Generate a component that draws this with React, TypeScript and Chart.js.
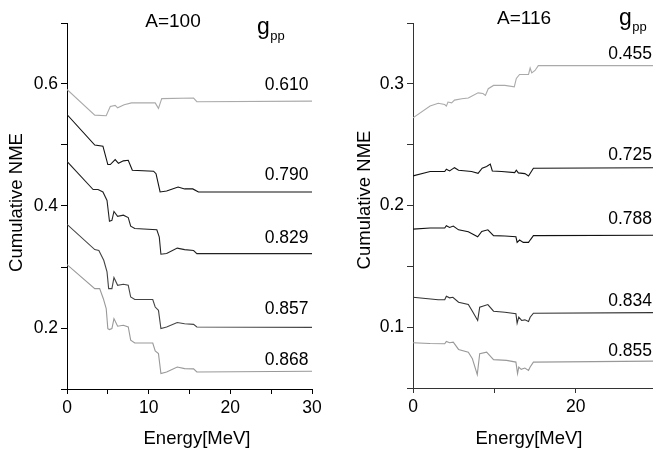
import React, { useEffect, useRef } from 'react';
import { Chart, registerables } from 'chart.js';
Chart.register(...registerables);

const FONT = '"Liberation Sans", Arial, Helvetica, sans-serif';

// ---------- A = 100 panel data ----------
const energyLeft610 = [0, 3.4, 4.8, 5.3, 5.9, 6.2, 7.0, 7.9, 10.8, 11.2, 11.6, 15.5, 15.9, 30];
const nmeLeft610 = [0.591, 0.549, 0.548, 0.563, 0.565, 0.561, 0.566, 0.569, 0.569, 0.560, 0.576, 0.577, 0.571, 0.572];

const energyLeft790 = [0, 3.4, 4.4, 5.0, 5.3, 5.9, 6.3, 6.9, 7.5, 8.0, 10.6, 10.9, 11.4, 12.2, 13.6, 14.4, 15.4, 16.1, 30];
const nmeLeft790 = [0.550, 0.500, 0.498, 0.468, 0.468, 0.476, 0.470, 0.474, 0.475, 0.4585, 0.457, 0.453, 0.423, 0.4245, 0.431, 0.428, 0.428, 0.423, 0.423];

const energyLeft829 = [0, 3.2, 3.8, 4.4, 4.9, 5.2, 5.5, 5.75, 6.2, 6.9, 7.5, 7.8, 8.3, 11.0, 11.3, 11.5, 12.2, 13.5, 14.4, 15.5, 15.9, 30];
const nmeLeft829 = [0.473, 0.427, 0.427, 0.423, 0.409, 0.375, 0.3765, 0.391, 0.383, 0.385, 0.381, 0.367, 0.363, 0.361, 0.349, 0.321, 0.322, 0.331, 0.3285, 0.327, 0.322, 0.322];

const energyLeft857 = [0, 3.4, 3.9, 4.5, 4.9, 5.1, 5.5, 5.75, 6.2, 6.9, 7.5, 7.8, 8.3, 10.5, 10.8, 11.2, 11.5, 12.2, 13.5, 14.4, 15.5, 15.9, 30];
const nmeLeft857 = [0.370, 0.3285, 0.327, 0.311, 0.292, 0.2645, 0.2645, 0.2826, 0.270, 0.2716, 0.270, 0.2508, 0.2466, 0.2466, 0.2344, 0.229, 0.199, 0.2016, 0.209, 0.207, 0.206, 0.2016, 0.201];

const energyLeft868 = [0, 3.4, 4.0, 4.45, 4.8, 5.0, 5.2, 5.5, 5.75, 6.2, 6.9, 7.5, 7.8, 8.3, 10.5, 10.8, 11.2, 11.5, 12.2, 13.5, 14.4, 15.5, 15.9, 30];
const nmeLeft868 = [0.304, 0.2646, 0.2646, 0.248, 0.232, 0.199, 0.1974, 0.199, 0.2154, 0.203, 0.2044, 0.2016, 0.180, 0.1754, 0.1754, 0.1623, 0.158, 0.1252, 0.1279, 0.136, 0.1334, 0.133, 0.1279, 0.129];

// ---------- A = 116 panel data ----------
const energyRight455 = [0, 2.1, 3.1, 3.9, 4.1, 4.3, 4.75, 5.1, 6.0, 6.8, 8.0, 8.6, 8.9, 9.25, 9.9, 11.3, 12.45, 12.7, 13.1, 14.2, 14.4, 14.6, 15.0, 15.4, 30];
const nmeRight455 = [0.272, 0.2817, 0.284, 0.283, 0.2817, 0.285, 0.2844, 0.2866, 0.2877, 0.2883, 0.2926, 0.292, 0.2905, 0.296, 0.2987, 0.2987, 0.2975, 0.3044, 0.3077, 0.3077, 0.313, 0.309, 0.311, 0.315, 0.315];

const energyRight725 = [0, 2.1, 3.9, 4.1, 4.5, 5.1, 5.6, 7.2, 8.0, 8.5, 9.05, 9.5, 9.75, 10.9, 12.5, 12.7, 12.95, 13.75, 14.2, 14.8, 30];
const nmeRight725 = [0.2243, 0.2279, 0.2279, 0.2298, 0.2284, 0.2311, 0.229, 0.2279, 0.2265, 0.2306, 0.232, 0.234, 0.2284, 0.2279, 0.227, 0.229, 0.2268, 0.2262, 0.2243, 0.2306, 0.231];

const energyRight788 = [0, 2.1, 3.9, 4.1, 4.5, 4.95, 5.6, 6.8, 7.95, 8.45, 9.2, 9.9, 11.3, 12.65, 12.8, 13.1, 13.55, 14.2, 14.4, 14.8, 30];
const nmeRight788 = [0.1806, 0.1815, 0.1815, 0.1834, 0.182, 0.1831, 0.180, 0.1784, 0.1743, 0.1787, 0.180, 0.1752, 0.1749, 0.1743, 0.1697, 0.1716, 0.1697, 0.1697, 0.1716, 0.1752, 0.1755];

const energyRight834 = [0, 3.1, 3.9, 4.1, 4.5, 4.9, 5.6, 6.8, 7.3, 7.95, 8.2, 9.2, 9.9, 11.3, 12.65, 12.8, 13.0, 13.35, 13.75, 14.2, 14.4, 14.8, 30];
const nmeRight834 = [0.1246, 0.1225, 0.1225, 0.1254, 0.1241, 0.1246, 0.1205, 0.1186, 0.1131, 0.1055, 0.1164, 0.1186, 0.1131, 0.1123, 0.111, 0.1033, 0.1082, 0.1055, 0.106, 0.1047, 0.1082, 0.1115, 0.112];

const energyRight855 = [0, 2.1, 3.9, 4.1, 4.5, 4.95, 5.6, 6.8, 7.3, 7.9, 8.2, 9.05, 9.9, 11.5, 12.65, 12.85, 13.0, 13.3, 13.75, 14.2, 14.4, 14.8, 30];
const nmeRight855 = [0.0872, 0.0866, 0.0864, 0.0883, 0.0872, 0.0877, 0.0817, 0.0795, 0.074, 0.061, 0.0782, 0.0795, 0.0733, 0.0727, 0.0713, 0.0618, 0.0672, 0.0653, 0.0664, 0.0645, 0.0672, 0.0713, 0.0721];

// tick labels
const leftXTickLabels = [0, 10, 20, 30];
const leftYTickLabels = [0.2, 0.4, 0.6];
const rightXTickLabels = [0, 20];
const rightYTickLabels = [0.1, 0.2, 0.3];

// g_pp labels
const leftGppLabels = ['0.610', '0.790', '0.829', '0.857', '0.868'];
const rightGppLabels = ['0.455', '0.725', '0.788', '0.834', '0.855'];

const pts = (xs: number[], ys: number[]) => xs.map((x, i) => ({ x, y: ys[i] }));

type TextItem = { text: string; x: number; y: number; align: CanvasTextAlign; size: number; rotate?: boolean; follow?: boolean };

type Panel = {
  width: number;
  height: number;
  area: { left: number; top: number; right: number; bottom: number };
  xMin: number; xMax: number; xStep: number; xLabels: number[];
  yMin: number; yMax: number; yStep: number; yLabels: number[];
  axisColor: string;
  series: { data: { x: number; y: number }[]; color: string }[];
  texts: TextItem[];
};

const leftPanel: Panel = {
  width: 330,
  height: 450,
  area: { left: 67, top: 23, right: 312, bottom: 389 },
  xMin: 0, xMax: 30, xStep: 5, xLabels: leftXTickLabels,
  yMin: 0.1, yMax: 0.7, yStep: 0.1, yLabels: leftYTickLabels,
  axisColor: '#000',
  series: [
    { data: pts(energyLeft610, nmeLeft610), color: '#aaaaaa' },
    { data: pts(energyLeft790, nmeLeft790), color: '#111111' },
    { data: pts(energyLeft829, nmeLeft829), color: '#222222' },
    { data: pts(energyLeft857, nmeLeft857), color: '#444444' },
    { data: pts(energyLeft868, nmeLeft868), color: '#999999' },
  ],
  texts: [
    { text: 'A=100', x: 173, y: 27, align: 'center', size: 19 },
    { text: 'g', x: 257, y: 33.5, align: 'left', size: 23 },
    { text: 'pp', x: 0, y: 39.5, align: 'left', size: 13, follow: true },
    { text: leftGppLabels[0], x: 308.5, y: 90, align: 'right', size: 17.5 },
    { text: leftGppLabels[1], x: 308.5, y: 180, align: 'right', size: 17.5 },
    { text: leftGppLabels[2], x: 308.5, y: 242.5, align: 'right', size: 17.5 },
    { text: leftGppLabels[3], x: 308.5, y: 313.5, align: 'right', size: 17.5 },
    { text: leftGppLabels[4], x: 308.5, y: 364.5, align: 'right', size: 17.5 },
    { text: 'Energy[MeV]', x: 197, y: 443.5, align: 'center', size: 18.5 },
    { text: 'Cumulative NME', x: 22, y: 202.5, align: 'center', size: 18.5, rotate: true },
  ],
};

const rightPanel: Panel = {
  width: 323,
  height: 450,
  area: { left: 83, top: 23, right: 323, bottom: 388 },
  xMin: 0, xMax: 29.5, xStep: 10, xLabels: rightXTickLabels,
  yMin: 0.05, yMax: 0.35, yStep: 0.05, yLabels: rightYTickLabels,
  axisColor: '#333',
  series: [
    { data: pts(energyRight455, nmeRight455), color: '#aaaaaa' },
    { data: pts(energyRight725, nmeRight725), color: '#111111' },
    { data: pts(energyRight788, nmeRight788), color: '#111111' },
    { data: pts(energyRight834, nmeRight834), color: '#333333' },
    { data: pts(energyRight855, nmeRight855), color: '#999999' },
  ],
  texts: [
    { text: 'A=116', x: 194, y: 23.5, align: 'center', size: 19 },
    { text: 'g', x: 289, y: 25, align: 'left', size: 23 },
    { text: 'pp', x: 0, y: 31, align: 'left', size: 13, follow: true },
    { text: rightGppLabels[0], x: 322, y: 58.5, align: 'right', size: 17.5 },
    { text: rightGppLabels[1], x: 322, y: 159.5, align: 'right', size: 17.5 },
    { text: rightGppLabels[2], x: 322, y: 223.5, align: 'right', size: 17.5 },
    { text: rightGppLabels[3], x: 322, y: 306, align: 'right', size: 17.5 },
    { text: rightGppLabels[4], x: 322, y: 356, align: 'right', size: 17.5 },
    { text: 'Energy[MeV]', x: 199, y: 443.5, align: 'center', size: 18.5 },
    { text: 'Cumulative NME', x: 40, y: 200, align: 'center', size: 18.5, rotate: true },
  ],
};

const near = (list: number[], v: number) => list.some((l) => Math.abs(l - v) < 1e-6);

function makeChart(canvas: HTMLCanvasElement, p: Panel) {
  const textPlugin = {
    id: 'panelTexts',
    afterDraw(chart: any) {
      const ctx = chart.ctx as CanvasRenderingContext2D;
      let lastEnd = 0;
      for (const t of p.texts) {
        ctx.save();
        ctx.fillStyle = '#000';
        ctx.font = `${t.size}px ${FONT}`;
        ctx.textAlign = t.align;
        ctx.textBaseline = 'alphabetic';
        const w = ctx.measureText(t.text).width;
        if (t.rotate) {
          ctx.translate(t.x, t.y);
          ctx.rotate(-Math.PI / 2);
          ctx.fillText(t.text, 0, 0);
        } else {
          const x = t.follow ? lastEnd + 0.5 : t.x;
          ctx.fillText(t.text, x, t.y);
          lastEnd = t.align === 'left' ? x + w : t.align === 'right' ? x : x + w / 2;
        }
        ctx.restore();
      }
    },
  };

  return new Chart(canvas, {
    type: 'line',
    data: {
      datasets: p.series.map((s) => ({
        data: s.data,
        borderColor: s.color,
        borderWidth: 1.1,
        pointRadius: 0,
        tension: 0,
        fill: false,
      })),
    },
    options: {
      responsive: false,
      animation: false,
      events: [],
      layout: {
        padding: { left: 0, top: p.area.top, right: p.width - p.area.right, bottom: 0 },
      },
      plugins: { legend: { display: false }, tooltip: { enabled: false }, title: { display: false } },
      scales: {
        x: {
          type: 'linear',
          min: p.xMin,
          max: p.xMax,
          afterFit: (s: any) => { s.height = p.height - p.area.bottom; },
          ticks: {
            stepSize: p.xStep,
            includeBounds: false,
            autoSkip: false,
            maxRotation: 0,
            padding: 4,
            color: '#000',
            font: { family: FONT, size: 17.5 },
            callback: (v: any) => (near(p.xLabels, Number(v)) ? String(Math.round(Number(v))) : ''),
          },
          grid: { display: true, drawOnChartArea: false, drawTicks: true, tickLength: 5, color: p.axisColor },
          border: { display: true, color: p.axisColor, width: 1 },
        },
        y: {
          type: 'linear',
          min: p.yMin,
          max: p.yMax,
          afterFit: (s: any) => { s.width = p.area.left; },
          ticks: {
            stepSize: p.yStep,
            autoSkip: false,
            padding: 3,
            color: '#000',
            font: { family: FONT, size: 17.5 },
            callback: (v: any) => (near(p.yLabels, Number(v)) ? Number(v).toFixed(1) : ''),
          },
          grid: { display: true, drawOnChartArea: false, drawTicks: true, tickLength: 6, color: p.axisColor },
          border: { display: true, color: p.axisColor, width: 1 },
        },
      },
    },
    plugins: [textPlugin],
  } as any);
}

export default function App() {
  const leftRef = useRef<HTMLCanvasElement | null>(null);
  const rightRef = useRef<HTMLCanvasElement | null>(null);

  useEffect(() => {
    const charts: Chart[] = [];
    if (leftRef.current) charts.push(makeChart(leftRef.current, leftPanel));
    if (rightRef.current) charts.push(makeChart(rightRef.current, rightPanel));
    return () => charts.forEach((c) => c.destroy());
  }, []);

  return (
    <div style={{ position: 'fixed', left: 0, top: 0, width: 653, height: 450, background: '#fff', overflow: 'hidden' }}>
      <canvas ref={leftRef} width={330} height={450} style={{ position: 'absolute', left: 0, top: 0, width: 330, height: 450 }} />
      <canvas ref={rightRef} width={323} height={450} style={{ position: 'absolute', left: 330, top: 0, width: 323, height: 450 }} />
    </div>
  );
}
